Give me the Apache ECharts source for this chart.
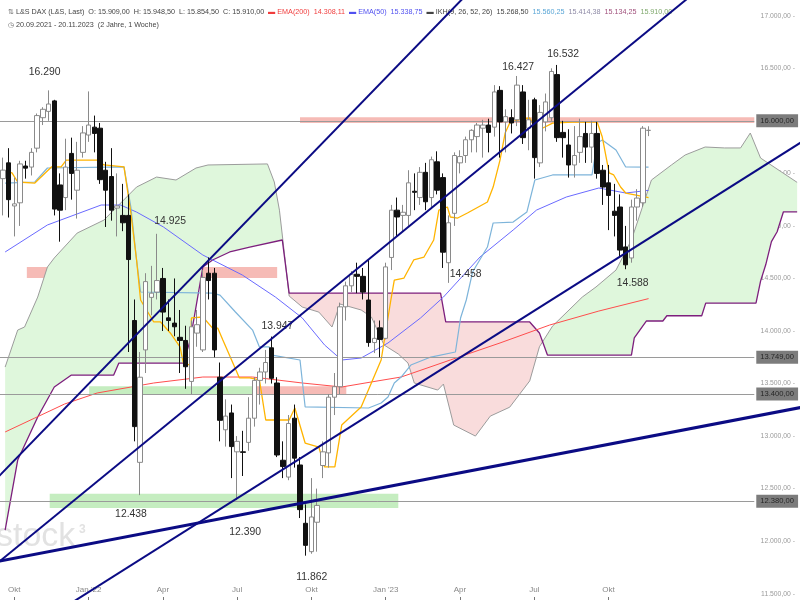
<!DOCTYPE html>
<html><head><meta charset="utf-8">
<script src="https://cdn.jsdelivr.net/npm/echarts@6/dist/echarts.min.js"></script>
<style>html,body{margin:0;padding:0;background:#fff}#c{width:800px;height:600px}</style>
</head><body><div id="c"></div>
<script>
// ---------------- DATA ----------------
const opens = [15450,15600,15190,15220,15570,15560,15740,16030,16090,16190,
15390,15270,15690,15340,15700,15865,15940,15930,15530,15470,
15170,15100,15100,14100,12750,13820,14320,14370,14500,14125,
14075,13940,13910,13520,13980,13820,14550,14550,13560,13060,
13220,12850,12850,12940,13170,13530,13610,13840,13505,12770,
12610,13170,12725,12170,11900,12180,12720,12840,13370,13470,
14230,14430,14540,14520,14295,13890,14030,13930,14700,15150,
15100,15100,15330,15270,15510,15270,15610,15460,14650,15120,
15600,15670,15820,15850,15930,15960,15940,16290,15990,16030,
16010,16275,15930,16200,15600,15990,16030,16440,15890,15770,
15580,15700,15880,15750,15880,15530,15410,15140,15180,14800,
14695,15180,15220,15909];
const closes = [15531,15250,15210,15590,15550,15700,16050,16110,16160,15160,
15150,15560,15500,15530,15885,15960,15880,15440,15340,15150,
15190,15030,14680,13090,13560,14470,14360,14480,14180,14100,
14040,13910,13660,14040,14060,14510,14480,13820,13150,13190,
12900,12950,12845,13170,13530,13610,13700,13550,12820,12710,
13120,12790,12300,11960,12230,12340,12850,13370,13470,14230,
14430,14540,14520,14370,13890,13930,13920,14610,15150,15085,
15130,15410,15320,15510,15230,15630,15340,14750,15030,15670,
15660,15820,15910,15960,15960,15890,16275,15990,16040,15980,
16340,15840,16010,15650,16080,16180,16470,15840,15840,15580,
15670,15850,15750,15880,15500,15370,15290,15100,14770,14630,
15180,15265,15930,15910];
const lows = [15100,15080,14900,15000,15450,15480,15700,15960,16000,15100,
14850,15150,15250,15070,15650,15800,15700,15400,14990,15050,
14900,14950,13800,12950,12438,13600,14150,14300,14000,14000,
13950,13600,13450,13400,13850,13800,14300,13750,12950,12900,
12600,12390,12620,12860,13090,13300,13500,13500,12800,12600,
12580,12700,12220,11862,11880,11900,12600,12700,13200,13400,
14100,14370,14360,14300,13850,13790,13750,13920,14580,14900,
14950,15000,15150,15200,15150,15170,15300,14600,14458,15000,
15500,15600,15700,15700,15650,15700,15850,15650,15700,15880,
15950,15780,15720,15450,15560,15900,16000,15800,15650,15460,
15460,15600,15600,15600,15450,15200,14960,14900,14700,14588,
14650,15050,15180,15854.5];
const highs = [15650,15740,15460,15620,15620,15740,16070,16130,16290,16200,
15500,15830,15840,15800,15950,16280,16050,15980,15610,15740,
15500,15400,15300,14300,13800,14550,14620,14925,14600,14300,
14500,14200,14050,14100,14200,14580,14700,14600,13700,13350,
13300,13000,13050,13370,13560,13650,13820,13947,13560,12950,
13200,13300,12800,12350,12600,12500,12950,13400,13600,14270,
14470,14570,14650,14600,14680,14100,14100,14650,15200,15270,
15200,15530,15500,15560,15600,15660,15710,15500,15100,15700,
15720,15850,15920,15980,16010,16020,16340,16330,16110,16110,
16427,16340,16200,16220,16150,16260,16500,16532,16000,15920,
15950,16020,15990,16000,15990,15580,15580,15400,15300,15000,
15250,15350,15950,15948.5];

const totalWeeks = 140;
const xTickWeeks = [2,15,28,41,54,67,80,93,106];
const xTickLabels = ['Okt',"Jan '22",'Apr','Jul','Okt',"Jan '23",'Apr','Jul','Okt'];
const yTicks = [11500,12000,12500,13000,13500,14000,14500,15000,15500,16000,16500,17000];

// indicator vertices [week, price]
const ema200 = [[0.4,13039],[5.6,13172],[10.8,13305],[16.5,13410],[26.4,13505],[35.0,13562],[43.7,13562],[52.4,13505],[59.3,13467],[64.5,13515],[69.7,13562],[78.3,13724],[87.0,13886],[95.7,14057],[104.3,14190],[113.0,14308.11]];
const ema50 = [[0.4,14752],[7.8,15009],[17.2,15199],[20.6,15199],[23.4,15132],[28.1,14990],[35.0,14723],[41.9,14533],[47.7,14323],[52.4,14124],[56.3,13867],[59.3,13724],[62.7,13743],[67.4,13886],[73.1,14124],[77.1,14323],[83.5,14704],[89.3,14961],[93.4,15151],[98.6,15275],[104.3,15361],[109.0,15313],[113.0,15338.75]];
const tenkan = [[0.4,15523],[1.6,15504],[2.6,15418],[5.6,15408],[8.5,15561],[10.2,15561],[11.1,15627],[16.5,15627],[17.7,15580],[21.2,15561],[22.4,15123],[23.4,14676],[24.1,14295],[26.4,14086],[27.6,14086],[29.3,13981],[31.0,13848],[31.6,13695],[32.8,13676],[33.0,14124],[35.0,14133],[36.7,14028],[37.6,14028],[38.5,13914],[41.4,13553],[43.2,13553],[44.9,13534],[46.0,13153],[50.1,13153],[51.1,13267],[52.9,12934],[55.3,12896],[56.3,12706],[58.1,12706],[59.3,13105],[62.7,13277],[66.2,13724],[67.9,14295],[68.5,14485],[70.2,14504],[71.9,14676],[73.7,14704],[75.4,14866],[76.3,15151],[77.8,15180],[78.3,15085],[79.6,15075],[81.3,15123],[84.8,15228],[85.8,15370],[87.0,15627],[87.9,15884],[88.7,15979],[90.5,16017],[92.2,16027],[93.1,15941],[94.5,15932],[96.2,15979],[99.7,15989],[104.0,15989],[104.9,15846],[106.1,15504],[106.9,15485],[108.1,15370],[109.0,15313],[110.8,15294],[113.0,15268.5]];
const kijun = [[0.4,15408],[5.6,15418],[7.8,15551],[21.2,15561],[22.4,15180],[23.4,14676],[24.1,14371],[36.7,14361],[38.0,14342],[40.7,14181],[43.7,14009],[44.9,13848],[46.6,13848],[47.1,13771],[52.0,13724],[52.9,13277],[64.0,13267],[66.2,13315],[67.4,13372],[68.5,13505],[69.7,13562],[71.4,13676],[74.9,13752],[79.2,13800],[80.1,14124],[81.1,14295],[82.2,14561],[84.8,14799],[85.8,15028],[89.3,15037],[91.7,15132],[93.1,15437],[96.2,15485],[103.1,15485],[104.0,15789],[104.9,15818],[107.3,15723],[109.0,15561],[113.0,15560.25]];
const senkouA = [[0.4,13657],[2.6,14009],[3.8,14038],[6.1,14323],[7.8,14609],[9.0,14695],[13.0,14932],[17.7,15056],[19.4,15151],[23.4,15370],[26.9,15465],[30.3,15437],[33.8,15551],[35.9,15580],[46.3,15590],[47.5,15418],[48.4,15150],[49.4,14676],[50.1,14333],[52.4,14228],[55.3,14180],[57.6,14038],[59.0,14257],[62.7,14200],[64.5,14133],[66.7,13867],[69.2,13781],[70.9,13695],[72.0,13505],[76.1,13438],[77.1,13495],[78.9,13105],[82.7,13000],[85.3,13190],[88.7,13275],[92.2,13525],[93.9,13850],[96.2,14047],[101.4,14323],[103.8,14419],[107.3,14580],[110.0,14866],[113.5,15437],[117.0,15580],[119.4,15675],[122.9,15751],[126.3,15742],[129.1,15742],[130.8,15884],[132.6,15646],[139,15414.38]];
const senkouB = [[0.4,12106],[2.6,12772],[6.1,13181],[9.0,13467],[12.0,13581],[19.4,13581],[20.3,13695],[31.6,13695],[32.8,13914],[35.0,14609],[36.7,14676],[39.7,14752],[43.2,14799],[48.9,14866],[50.1,14361],[76.6,14361],[77.5,14086],[92.2,14086],[93.9,13981],[95.3,13771],[110.0,13771],[110.5,13935],[112.6,14095],[115.5,14095],[116.2,14145],[122.3,14145],[123.0,14265],[131.8,14265],[132.6,14475],[133.5,14630],[134.5,14850],[135.5,14945],[136.6,15134.25],[139,15134.25]];

// trend lines: two anchor points each [week, price]
const trendSteepA = [[-1,12601],[90,17697]];
const trendSteepB = [[-1,11789],[125,17395]];
const trendMid = [[-1,10966],[140,15806]];
const trendLow = [[-1,11806],[140,13276]];

// horizontal levels and zones
const levels = [16000, 13749, 13400, 12380];
const levelEndWeek = 131.5;
const zoneWeeks = [[52,131.5],[4.2,48],[15.1,43.7],[43.7,60.1],[8.2,69.2]];
const zonePrices = [[15980,16035],[14505,14610],[13390,13475],[13390,13475],[12315,12450]];
const zoneKinds = ['red','red','green','red','green'];

// annotated highs / lows
const annotIdx = [8,27,24,47,41,53,78,90,97,109];
const annotVal = [16290,14925,12438,13947,12390,11862,14458,16427,16532,14588];

// ---------------- HELPERS ----------------
function fmt(v, d){
  const s = Math.abs(v).toFixed(d);
  let parts = s.split('.');
  let ip = parts[0].replace(/\B(?=(\d{3})+(?!\d))/g,'.');
  return (v<0?'-':'') + ip + (parts[1] ? ','+parts[1] : '');
}
const FONT = "'Liberation Sans',Arial,sans-serif";
const categories = [];
for (let i=0;i<totalWeeks;i++){
  const d = new Date(Date.UTC(2021,8,20) + i*7*86400000);
  categories.push(d.toISOString().slice(0,10));
}
function deDate(s){ const p=s.split('-'); return p[2]+'.'+p[1]+'.'+p[0]; }
const last = opens.length-1;
const lastOf = a => a[a.length-1][1];

function interp(pts, w){
  if (w <= pts[0][0]) return pts[0][1];
  for (let k=1;k<pts.length;k++){
    if (w <= pts[k][0]){
      const w0=pts[k-1][0], p0=pts[k-1][1], w1=pts[k][0], p1=pts[k][1];
      return p0 + (p1-p0)*(w-w0)/(w1-w0);
    }
  }
  return pts[pts.length-1][1];
}

function cloudRender(params, api){
  const w0 = Math.max(senkouA[0][0], senkouB[0][0]);
  const w1 = Math.min(senkouA[senkouA.length-1][0], senkouB[senkouB.length-1][0]);
  const ws = Array.from(new Set(senkouA.map(p=>p[0]).concat(senkouB.map(p=>p[0]))))
    .filter(w=>w>=w0 && w<=w1).sort((a,b)=>a-b);
  const rows = [];
  for (let k=0;k<ws.length;k++){
    const a = interp(senkouA, ws[k]), b = interp(senkouB, ws[k]);
    if (rows.length){
      const pr = rows[rows.length-1];
      const d0 = pr.a-pr.b, d1 = a-b;
      if (d0*d1 < 0){
        const t = d0/(d0-d1);
        const wc = pr.w + t*(ws[k]-pr.w);
        const pc = pr.a + t*(a-pr.a);
        rows.push({w:wc, a:pc, b:pc, cross:true});
      }
    }
    rows.push({w:ws[k], a:a, b:b});
  }
  const children = [];
  let grp = [rows[0]];
  const flush = (g) => {
    if (g.length < 2) return;
    let sign = 0;
    for (const r of g){ if (!r.cross && r.a !== r.b){ sign = r.a - r.b; break; } }
    const pts = g.map(r=>api.coord([r.w, r.a])).concat(g.slice().reverse().map(r=>api.coord([r.w, r.b])));
    children.push({type:'polygon', shape:{points:pts}, style:{fill: sign>=0 ? '#dff7dc' : '#f9dcdc'}, silent:true});
  };
  for (let k=1;k<rows.length;k++){
    grp.push(rows[k]);
    if (rows[k].cross){ flush(grp); grp=[rows[k]]; }
  }
  flush(grp);
  return {type:'group', children:children};
}

const zoneColors = {red:'rgba(238,120,110,0.5)', green:'rgba(140,220,130,0.5)'};

const labelOffsets = [[-4,-18],[13,-13],[-9,19],[6,-10],[8,32],[6,21],[17,-9],[1,-9],[6,-11],[7,14]];

const header1 =
  `{ic|⇅} {t|L&S DAX (L&S, Last)  O: ${fmt(opens[last],2)}  H: ${fmt(highs[last],2)}  L: ${fmt(lows[last],2)}  C: ${fmt(closes[last],2)}}  ` +
  `{r|▬ EMA(200)  ${fmt(lastOf(ema200),2)}}  {b|▬ EMA(50)  ${fmt(lastOf(ema50),2)}}  ` +
  `{t|▬ IKH(9, 26, 52, 26)  ${fmt(lastOf(tenkan),2)}}  {lb|${fmt(lastOf(kijun),2)}}  {ga|${fmt(lastOf(senkouA),2)}}  {pb|${fmt(lastOf(senkouB),2)}}  {gr|${fmt(closes[last],2)}}`;
const header2 = `{ic|◷} {t|${deDate(categories[0])} - ${deDate(categories[last])}  (2 Jahre, 1 Woche)}`;
const HS = 7.2;
const rs = (c)=>({color:c, fontSize:HS, fontWeight:'normal', fontFamily:FONT});

// ---------------- CHART ----------------
const chart = echarts.init(document.getElementById('c'), null, {renderer:'canvas'});
const lineS = (data, color, width, z) => ({type:'line', xAxisIndex:1, yAxisIndex:0, data:data, symbol:'none', silent:true,
  lineStyle:{color:color, width:width}, z:z, clip:true, animation:false});

chart.setOption({
  animation:false,
  backgroundColor:'#fff',
  title:[
    {left:3, top:4, text:header1, textStyle:{fontSize:HS, fontWeight:'normal', fontFamily:FONT, color:'#444', rich:{ic:rs('#666'), t:rs('#444'), r:rs('#f03c3c'), b:rs('#5050f0'), lb:rs('#5aa6d6'), ga:rs('#8e8aa6'), pb:rs('#a0507c'), gr:rs('#7fa86c')}}},
    {left:3, top:17, text:header2, textStyle:{fontSize:HS, fontWeight:'normal', fontFamily:FONT, color:'#444', rich:{ic:rs('#666'), t:rs('#444')}}}
  ],
  graphic:[
    {type:'text', left:-4, top:520, z:0, silent:true, style:{text:'stock', fill:'#e2e2e2', font:"34px 'Liberation Sans',Arial,sans-serif"}},
    {type:'text', left:79, top:524, z:0, silent:true, style:{text:'3', fill:'#e2e2e2', font:"bold 12px 'Liberation Sans',Arial,sans-serif"}}
  ],
  grid:{left:-5, right:-3, top:0, bottom:0, containLabel:false},
  xAxis:[
    {type:'category', data:categories, boundaryGap:true,
     axisLine:{show:false},
     axisTick:{show:true, inside:true, length:3, alignWithLabel:true, interval:(idx)=>xTickWeeks.includes(idx), lineStyle:{color:'#777'}},
     axisLabel:{inside:true, margin:6, interval:(idx)=>xTickWeeks.includes(idx),
       formatter:(v,idx)=>{ const k=xTickWeeks.indexOf(idx); return k>=0?xTickLabels[k]:''; },
       color:'#888', fontSize:8, fontFamily:FONT},
     splitLine:{show:false}},
    {type:'value', min:-0.5, max:139.5, show:false}
  ],
  yAxis:[{type:'value', position:'right', min:11440, max:17150, scale:true,
    axisLine:{show:false}, axisTick:{show:false}, splitLine:{show:false},
    axisLabel:{inside:true, margin:5, customValues:yTicks, formatter:(v)=>fmt(v,2)+' -', color:'#9a9a9a', fontSize:6.8, fontFamily:FONT}}],
  series:[
    {type:'custom', xAxisIndex:1, yAxisIndex:0, data:[[0]], renderItem:cloudRender, z:1, silent:true},
    {type:'line', xAxisIndex:1, yAxisIndex:0, data:[], z:2, silent:true,
     markArea:{silent:true, data: zoneWeeks.map((zw,k)=>[
        {coord:[zw[0], zonePrices[k][1]], itemStyle:{color:zoneColors[zoneKinds[k]]}},
        {coord:[zw[1], zonePrices[k][0]]}])},
     markLine:{silent:true, symbol:['none','none'],
       lineStyle:{color:'#9a9a9a', width:1, type:'solid'},
       label:{show:true, position:'end', distance:2, formatter:'{b}', backgroundColor:'#7c7c7c', color:'#262626', padding:[3,4,2,4], fontSize:7.6, fontFamily:FONT},
       data: levels.map(v=>[{coord:[-0.5, v], name:fmt(v,2)}, {coord:[levelEndWeek, v]}]).concat([
         [{coord:[levelEndWeek-0.01, closes[last]], name:fmt(closes[last],2)},
          {coord:[levelEndWeek, closes[last]], lineStyle:{opacity:0}, label:{backgroundColor:'#000', color:'#fff'}}]
       ])}},
    lineS(senkouA, '#9c9c9c', 1, 3),
    lineS(senkouB, '#7d1f7d', 1.3, 3),
    lineS(ema200, '#ff4d4d', 1, 3),
    lineS(ema50, '#6a6aff', 1, 3),
    lineS(kijun, '#7db4da', 1.2, 3),
    lineS(tenkan, '#ffb400', 1.3, 3),
    {type:'candlestick', xAxisIndex:0, yAxisIndex:0, barWidth:5, z:5, silent:true,
     data: opens.map((o,i)=>[o, closes[i], lows[i], highs[i]]),
     itemStyle:{color:'#ffffff', color0:'#111111', borderColor:'#8a8a8a', borderColor0:'#111111', borderWidth:1},
     markPoint:{silent:true, symbol:'circle', symbolSize:0,
       label:{show:true, position:'inside', color:'#333', fontSize:10.4, fontFamily:FONT, formatter:(p)=>fmt(p.value,0)},
       data: annotIdx.map((i,k)=>({coord:[i, annotVal[k]], value:annotVal[k], label:{offset:labelOffsets[k]}}))}},
    lineS(trendSteepA, '#0b0b84', 2, 6),
    lineS(trendSteepB, '#0b0b84', 2, 6),
    lineS(trendMid, '#0b0b84', 2, 6),
    lineS(trendLow, '#0b0b84', 3, 6)
  ]
});
</script>
</body></html>
